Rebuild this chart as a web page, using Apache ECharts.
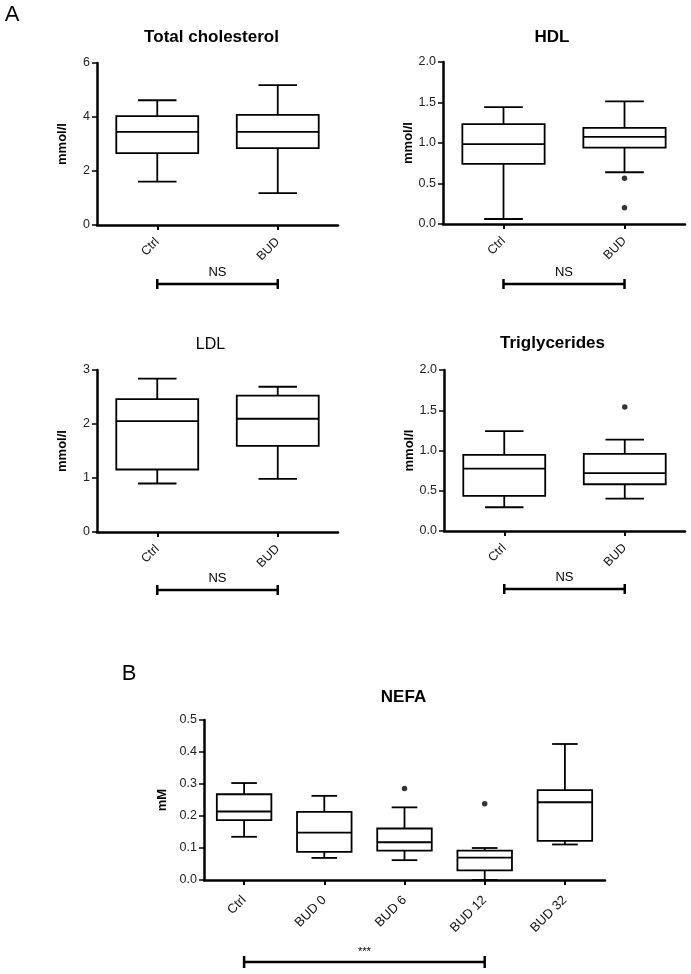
<!DOCTYPE html>
<html>
<head>
<meta charset="utf-8">
<script src="https://cdn.jsdelivr.net/npm/echarts@6/dist/echarts.min.js"></script>
<style>
html,body{margin:0;padding:0;background:#fff;}
#c{width:691px;height:974px;}
</style>
</head>
<body>
<div id="c"></div>
<script>
// ---- data (min, Q1, median, Q3, max) ----
const groupsA = ['Ctrl', 'BUD'];
const groupsB = ['Ctrl', 'BUD 0', 'BUD 6', 'BUD 12', 'BUD 32'];

const totalChol = [[1.61, 2.66, 3.45, 4.03, 4.62], [1.18, 2.85, 3.45, 4.08, 5.18]];
const hdl       = [[0.062, 0.742, 0.986, 1.233, 1.443], [0.639, 0.944, 1.076, 1.187, 1.513]];
const ldl       = [[0.898, 1.157, 2.054, 2.462, 2.839], [0.983, 1.596, 2.097, 2.524, 2.69]];
const trig      = [[0.295, 0.436, 0.775, 0.946, 1.241], [0.402, 0.581, 0.718, 0.958, 1.136]];
const nefa      = [[0.135, 0.187, 0.214, 0.268, 0.303],
                   [0.069, 0.088, 0.148, 0.213, 0.263],
                   [0.062, 0.092, 0.118, 0.161, 0.227],
                   [0.0, 0.030, 0.070, 0.092, 0.100],
                   [0.111, 0.122, 0.243, 0.281, 0.425]];

const hdlOutliers  = [['BUD', 0.565], ['BUD', 0.20]];
const trigOutliers = [['BUD', 1.54]];
const nefaOutliers = [['BUD 6', 0.286], ['BUD 12', 0.238]];

// axis ranges [min, max, interval]
const tcAxis   = [0, 6, 2];
const hdlAxis  = [0, 2, 0.5];
const ldlAxis  = [0, 3, 1];
const trigAxis = [0, 2, 0.5];
const nefaAxis = [0, 0.5, 0.1];

const titles = ['Total cholesterol', 'HDL', 'LDL', 'Triglycerides', 'NEFA'];
const yNames = ['mmol/l', 'mmol/l', 'mmol/l', 'mmol/l', 'mM'];
const sigLabels = ['NS', 'NS', 'NS', 'NS', '***'];

// ---- layout ----
const FONT = '"Liberation Sans", Arial, Helvetica, sans-serif';
const grids = [
  {left: 97,  top: 63,  width: 241, height: 162},
  {left: 443, top: 62,  width: 242, height: 162},
  {left: 97,  top: 370, width: 241, height: 162},
  {left: 444, top: 370, width: 241, height: 161},
  {left: 204, top: 720, width: 401, height: 160}
];
const panels = [
  {cats: groupsA, box: totalChol, out: [], ax: tcAxis, dec: 0, lab: 12.5, mg: 15},
  {cats: groupsA, box: hdl, out: hdlOutliers, ax: hdlAxis, dec: 1, lab: 12.5, mg: 15},
  {cats: groupsA, box: ldl, out: [], ax: ldlAxis, dec: 0, lab: 12.5, mg: 15},
  {cats: groupsA, box: trig, out: trigOutliers, ax: trigAxis, dec: 1, lab: 12.5, mg: 15},
  {cats: groupsB, box: nefa, out: nefaOutliers, ax: nefaAxis, dec: 1, lab: 13, mg: 18}
];

function renderBox(params, api) {
  const xi = api.value(0);
  const v = [api.value(1), api.value(2), api.value(3), api.value(4), api.value(5)];
  const p = v.map(val => api.coord([xi, val]));
  const cx = p[0][0];
  const band = api.size([1, 0])[0];
  const bw = band * 0.68;
  const cw = bw * 0.47;
  const st = {stroke: '#000', lineWidth: 1.8, fill: null};
  return {
    type: 'group',
    children: [
      {type: 'rect', shape: {x: cx - bw / 2, y: p[3][1], width: bw, height: p[1][1] - p[3][1]}, style: {stroke: '#000', lineWidth: 1.8, fill: '#fff'}},
      {type: 'line', shape: {x1: cx - bw / 2, y1: p[2][1], x2: cx + bw / 2, y2: p[2][1]}, style: st},
      {type: 'line', shape: {x1: cx, y1: p[3][1], x2: cx, y2: p[4][1]}, style: st},
      {type: 'line', shape: {x1: cx, y1: p[1][1], x2: cx, y2: p[0][1]}, style: st},
      {type: 'line', shape: {x1: cx - cw / 2, y1: p[4][1], x2: cx + cw / 2, y2: p[4][1]}, style: st},
      {type: 'line', shape: {x1: cx - cw / 2, y1: p[0][1], x2: cx + cw / 2, y2: p[0][1]}, style: st}
    ]
  };
}

const xAxes = [], yAxes = [], series = [];
panels.forEach((pn, i) => {
  xAxes.push({
    type: 'category', gridIndex: i, data: pn.cats,
    axisLine: {show: true, lineStyle: {color: '#000', width: 2.5}},
    axisTick: {show: true, alignWithLabel: true, length: 5, lineStyle: {color: '#000', width: 2}},
    axisLabel: {rotate: 45, fontSize: pn.lab, fontFamily: FONT, color: '#111', margin: pn.mg, interval: 0},
    splitLine: {show: false}
  });
  yAxes.push({
    type: 'value', gridIndex: i, min: pn.ax[0], max: pn.ax[1], interval: pn.ax[2],
    name: yNames[i], nameLocation: 'middle', nameGap: 28, nameRotate: 90,
    nameTextStyle: {fontSize: 13, fontWeight: 'bold', fontFamily: FONT, color: '#000'},
    axisLine: {show: true, lineStyle: {color: '#000', width: 2.5}},
    axisTick: {show: true, length: 5, lineStyle: {color: '#000', width: 1.5}},
    axisLabel: {fontSize: 12.5, fontFamily: FONT, color: '#222', margin: 7,
      formatter: val => val.toFixed(pn.dec)},
    splitLine: {show: false}
  });
  series.push({
    type: 'custom', xAxisIndex: i, yAxisIndex: i,
    renderItem: renderBox,
    encode: {x: 0, y: [1, 2, 3, 4, 5]},
    data: pn.box.map((b, k) => [k].concat(b)),
    z: 3
  });
  if (pn.out.length) {
    series.push({
      type: 'scatter', xAxisIndex: i, yAxisIndex: i,
      data: pn.out, symbol: 'circle', symbolSize: 5.5,
      itemStyle: {color: '#000'}, z: 4
    });
  }
});

const chart = echarts.init(document.getElementById('c'), null, {renderer: 'canvas'});
chart.setOption({
  animation: false,
  backgroundColor: '#fff',
  grid: grids.map(g => Object.assign({containLabel: false}, g)),
  xAxis: xAxes,
  yAxis: yAxes,
  series: series
});

// ---- annotations: titles, panel letters, significance brackets ----
const gfx = [];
function txt(x, y, text, font) {
  gfx.push({type: 'text', x: x, y: y, silent: true,
    style: {text: text, font: font, fill: '#000', align: 'center', verticalAlign: 'middle',
            textAlign: 'center', textVerticalAlign: 'middle'}});
}
const titleFonts = ['bold 17px', 'bold 17px', '16px', 'bold 17px', 'bold 17px'];
const titleOffsets = [-6, -12, -7, -12, -1];
const titleDy = [-26, -25, -25, -27, -23];
const bracketDy = [59, 60, 58, 58, 82];
const sigDy = [47, 48, 46, 46, 72];
const sigFont = ['13px', '13px', '13px', '13px', '11px'];
panels.forEach((pn, i) => {
  const g = grids[i];
  txt(g.left + g.width / 2 + titleOffsets[i], g.top + titleDy[i], titles[i], titleFonts[i] + ' ' + FONT);
  const x1 = chart.convertToPixel({xAxisIndex: i}, pn.cats[0]);
  const x2 = chart.convertToPixel({xAxisIndex: i}, pn.cats[Math.min(pn.cats.length - 1, i === 4 ? 3 : 1)]);
  const y0 = chart.convertToPixel({yAxisIndex: i}, pn.ax[0]);
  const by = y0 + bracketDy[i];
  const capH = i === 4 ? 6 : 5;
  const ls = {stroke: '#000', lineWidth: 2.5};
  gfx.push({type: 'line', silent: true, shape: {x1: x1, y1: by, x2: x2, y2: by}, style: ls});
  gfx.push({type: 'line', silent: true, shape: {x1: x1, y1: by - capH, x2: x1, y2: by + capH}, style: ls});
  gfx.push({type: 'line', silent: true, shape: {x1: x2, y1: by - capH, x2: x2, y2: by + capH}, style: ls});
  txt((x1 + x2) / 2, y0 + sigDy[i], sigLabels[i], sigFont[i] + ' ' + FONT);
});
txt(12, 15, 'A', '22px ' + FONT);
txt(129, 674, 'B', '22px ' + FONT);
chart.setOption({graphic: gfx});
</script>
</body>
</html>
